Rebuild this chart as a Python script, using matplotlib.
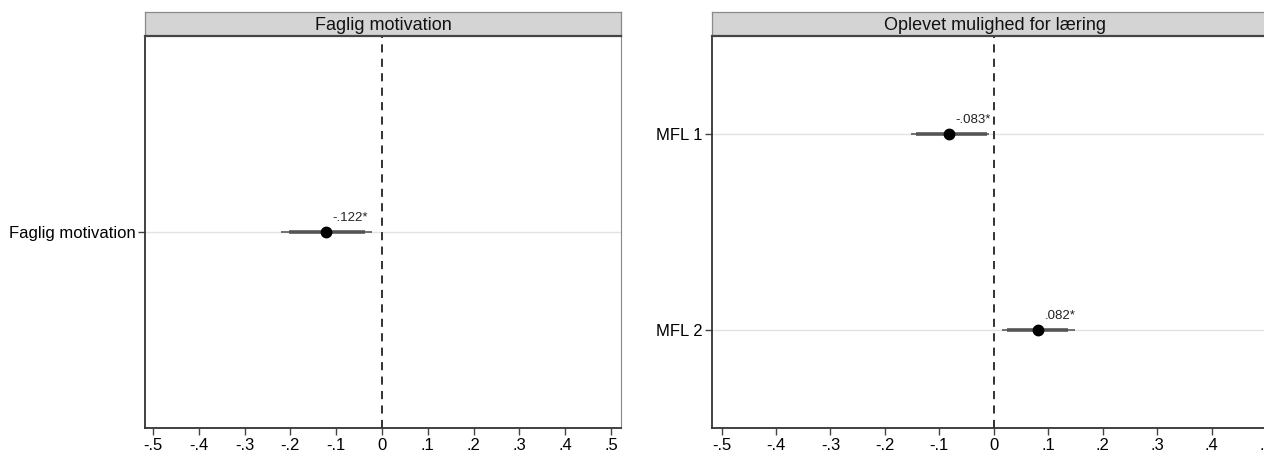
import matplotlib
matplotlib.use("Agg")
import matplotlib.pyplot as plt

plt.rcParams['font.family'] = ['Liberation Sans', 'DejaVu Sans']

# Data
panel_titles = ["Faglig motivation", "Oplevet mulighed for læring"]
left_labels = ["Faglig motivation"]
left_est = [-0.122]
left_ci_lo = [-0.220]
left_ci_hi = [-0.022]
left_in_lo = [-0.203]
left_in_hi = [-0.038]
left_txt = ["-.122*"]

right_labels = ["MFL 1", "MFL 2"]
right_est = [-0.083, 0.082]
right_ci_lo = [-0.153, 0.015]
right_ci_hi = [-0.009, 0.149]
right_in_lo = [-0.142, 0.024]
right_in_hi = [-0.013, 0.136]
right_txt = ["-.083*", ".082*"]

xticks = [-0.5, -0.4, -0.3, -0.2, -0.1, 0, 0.1, 0.2, 0.3, 0.4, 0.5]
xticklabels = ["-.5", "-.4", "-.3", "-.2", "-.1", "0", ".1", ".2", ".3", ".4", ".5"]

W, H = 1264, 455
fig = plt.figure(figsize=(W / 100, H / 100), dpi=100)

def fx(px):
    return px / W

def fy(py):
    return 1 - py / H

ax_top, ax_bot, strip_top = 36, 428, 12
panels = [
    (145, 621, panel_titles[0], left_labels, left_est, left_ci_lo, left_ci_hi, left_in_lo, left_in_hi, left_txt),
    (712, 1278, panel_titles[1], right_labels, right_est, right_ci_lo, right_ci_hi, right_in_lo, right_in_hi, right_txt),
]

for (x0, x1, title, labels, est, lo, hi, ilo, ihi, txt) in panels:
    ax = fig.add_axes([fx(x0), fy(ax_bot), fx(x1 - x0), (ax_bot - ax_top) / H])
    n = len(labels)
    ys = list(range(1, n + 1))
    ax.set_xlim(-0.5175, 0.5218)
    ax.set_ylim(n + 0.5, 0.5)
    for y in ys:
        ax.axhline(y, color='#e3e3e3', lw=1.0, zorder=1)
    ax.axvline(0, color='#222222', lw=1.3, linestyle=(0, (4.5, 3.5)), zorder=2)
    for y, e, l, h, il, ih, t in zip(ys, est, lo, hi, ilo, ihi, txt):
        ax.plot([l, h], [y, y], color='#666666', lw=1.3, solid_capstyle='butt', zorder=3)
        ax.plot([il, ih], [y, y], color='#555555', lw=2.6, solid_capstyle='butt', zorder=4)
        ax.plot([e], [y], 'o', color='black', ms=7.5, zorder=5)
        ax.annotate(t, xy=(e, y), xytext=(4.5, 8), textcoords='offset points',
                    ha='left', va='baseline', fontsize=9.5, color='#222222')
    ax.set_yticks(ys)
    ax.set_yticklabels(labels, fontsize=12)
    ax.set_xticks(xticks)
    ax.set_xticklabels(xticklabels, fontsize=12)
    ax.tick_params(axis='both', direction='out', length=5, width=1, color='#444444')
    ax.tick_params(axis='y', pad=2)
    ax.tick_params(axis='x', pad=2.5)
    for s in ['left', 'bottom']:
        ax.spines[s].set_color('#333333')
        ax.spines[s].set_linewidth(1.3)
    ax.spines['right'].set_color('#888888')
    ax.spines['right'].set_linewidth(0.8)
    ax.spines['top'].set_visible(False)

    sax = fig.add_axes([fx(x0), fy(ax_top), fx(x1 - x0), (ax_top - strip_top) / H])
    sax.set_facecolor('#d4d4d4')
    sax.set_xticks([])
    sax.set_yticks([])
    for s in ['top', 'left', 'right']:
        sax.spines[s].set_color('#8a8a8a')
        sax.spines[s].set_linewidth(0.9)
    sax.spines['bottom'].set_color('#444444')
    sax.spines['bottom'].set_linewidth(1.6)
    sax.text(0.5, 0.45, title, transform=sax.transAxes, ha='center', va='center',
             fontsize=13, color='#111111')

fig.savefig("out.png", dpi=100)
